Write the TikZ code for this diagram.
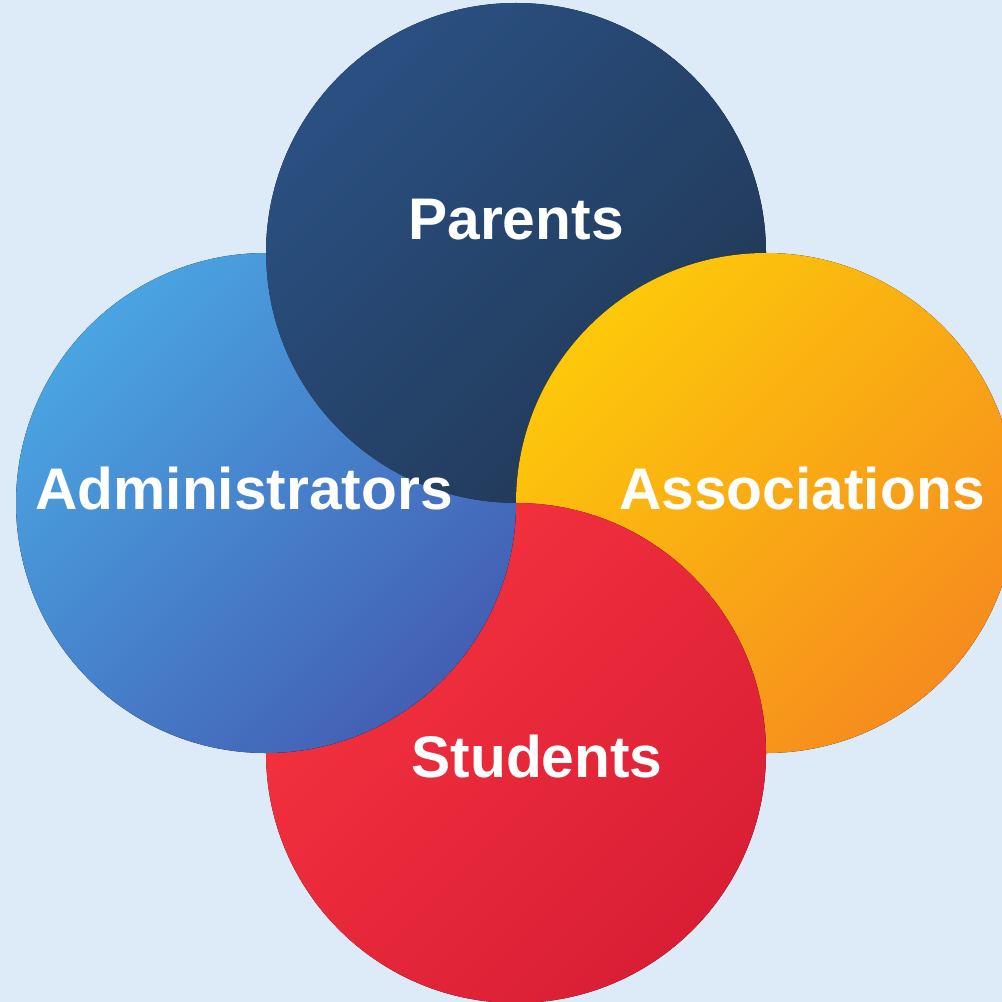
\documentclass[tikz,border=0pt]{standalone}
\usepackage{fontspec}
\setmainfont{Liberation Sans}
\usetikzlibrary{positioning}
\definecolor{bgblue}{HTML}{DDEAF7}
\definecolor{parentsA}{HTML}{2A5082}
\definecolor{parentsB}{HTML}{213856}
\definecolor{adminA}{HTML}{4AA4E2}
\definecolor{adminB}{HTML}{435FB4}
\definecolor{assocA}{HTML}{FDC80A}
\definecolor{assocB}{HTML}{F68C1E}
\definecolor{studA}{HTML}{F6333F}
\definecolor{studB}{HTML}{D91E35}
\tikzstyle{parentsfill} = [top color=parentsA, bottom color=parentsB, shading angle=45]
\tikzstyle{adminfill} = [top color=adminA, bottom color=adminB, shading angle=45]
\tikzstyle{assocfill} = [top color=assocA, bottom color=assocB, shading angle=45]
\tikzstyle{studfill} = [top color=studA, bottom color=studB, shading angle=45]
\tikzstyle{grouptext} = [text=white, font=\bfseries\fontsize{16.7}{20}\selectfont]

\begin{document}
\begin{tikzpicture}
    % Background
    \useasboundingbox (0,0) rectangle (10.02,-10.02);
    \clip (0,0) rectangle (10.02,-10.02);
    \fill[bgblue] (0,0) rectangle (10.02,-10.02);

    % Circle centres
    \coordinate (par) at (5.16,-2.53);
    \coordinate (adm) at (2.66,-5.03);
    \coordinate (ass) at (7.66,-5.03);
    \coordinate (stu) at (5.16,-7.53);

    % Circles
    \fill[parentsfill] (par) circle (2.5);
    \fill[assocfill] (ass) circle (2.5);
    \fill[studfill] (stu) circle (2.5);
    \begin{scope}[even odd rule]
        % Administrators stays under Parents
        \clip (0,0) rectangle (10.02,-10.02) (par) circle (2.5);
        \fill[adminfill] (adm) circle (2.5);
    \end{scope}

    % Labels
    \node[grouptext] (par_label) at (5.16,-2.20) {Parents};
    \node[grouptext] (adm_label) at (2.44,-4.89) {Administrators};
    \node[grouptext] (ass_label) at (8.02,-4.89) {Associations};
    \node[grouptext] (stu_label) at (5.37,-7.57) {Students};
\end{tikzpicture}
\end{document}
